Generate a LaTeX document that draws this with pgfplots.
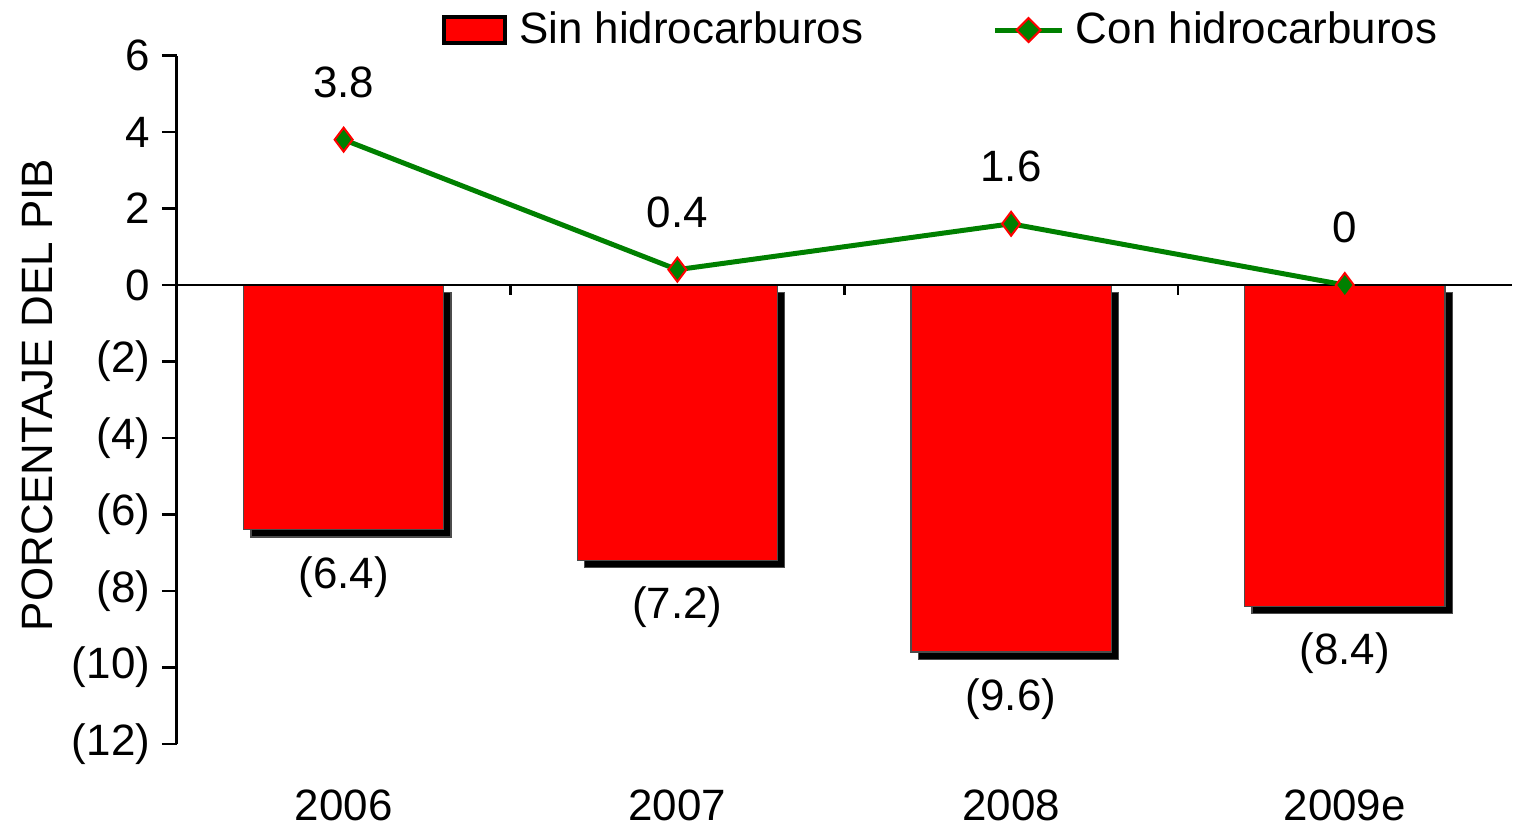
\documentclass[border=0pt]{standalone}
\usepackage{fontspec}
\setmainfont{Liberation Sans}
\usepackage{pgfplots}
\pgfplotsset{compat=1.18}
\definecolor{barRed}{RGB}{255,0,0}
\definecolor{lineGreen}{RGB}{0,128,0}
\newcommand{\chartfont}{\fontsize{13.2}{15}\selectfont}

\begin{document}
\begin{tikzpicture}
\begin{axis}[
  scale only axis,
  width=401.4pt, height=207pt,
  xmin=-0.5, xmax=3.5, ymin=-12, ymax=6,
  axis y line*=left, axis x line*=bottom,
  x axis line style={draw=none},
  y axis line style={line width=0.8pt},
  xtick={0,1,2,3},
  xticklabels={2006,2007,2008,2009e},
  xtick style={draw=none},
  xticklabel style={inner sep=2.5pt, yshift=-6.5pt},
  ytick={-12,-10,...,6},
  yticklabels={(12),(10),(8),(6),(4),(2),0,2,4,6},
  tick align=outside, major tick length=4.5pt,
  ytick style={black, line width=0.8pt},
  tick label style={font=\chartfont},
  /pgf/number format/assume math mode=true,
  ylabel={PORCENTAJE DEL PIB},
  ylabel style={font=\chartfont, inner ysep=6.5pt,
    at={(axis description cs:-0.1046,0.507)}, anchor=center},
  legend columns=2,
  legend style={draw=none, fill=none, font=\chartfont, inner sep=1.5pt,
    at={(axis description cs:0.574,1.037)}, anchor=center,
    /tikz/every odd column/.append style={column sep=1.5pt},
    /tikz/every even column/.append style={column sep=37pt}},
  clip=false,
]

% leyenda de las barras (cuadro rojo con borde negro, sin sombra)
\addlegendimage{legend image code/.code={
    \draw[fill=barRed, draw=black, line width=1.2pt] (0.6pt,-4pt) rectangle (19pt,4pt);}}
\addlegendentry{Sin hidrocarburos}

% barras: saldo sin hidrocarburos (meta = valor absoluto para la etiqueta)
\addplot[ybar, bar width=0.6, bar shift=0pt, forget plot,
  fill=barRed, draw=black!70, line width=0.4pt,
  preaction={fill=black, transform canvas={xshift=2.2pt, yshift=-2.2pt}},
  point meta=explicit,
  nodes near coords={(\pgfmathprintnumber[fixed,precision=1]{\pgfplotspointmeta})},
  nodes near coords style={font=\chartfont, text=black, anchor=north, yshift=-4.5pt},
] coordinates {(0,-6.4) [6.4] (1,-7.2) [7.2] (2,-9.6) [9.6] (3,-8.4) [8.4]};

% linea del cero
\addplot[black, line width=0.8pt, forget plot] coordinates {(-0.5,0) (3.5,0)};

% linea: saldo con hidrocarburos
\addplot[lineGreen, line width=1.5pt,
  mark=diamond*, mark size=3.6pt,
  mark options={fill=lineGreen, draw=red, line width=0.6pt},
  nodes near coords,
  nodes near coords style={font=\chartfont, text=black, anchor=south, yshift=9pt},
  legend image code/.code={
    \draw[lineGreen, line width=1.5pt] (0pt,0pt) -- (20pt,0pt);
    \draw[fill=lineGreen, draw=red, line width=0.6pt]
      (10pt,3.6pt) -- (13.6pt,0pt) -- (10pt,-3.6pt) -- (6.4pt,0pt) -- cycle;}
] coordinates {(0,3.8) (1,0.4) (2,1.6) (3,0)};
\addlegendentry{Con hidrocarburos}

% marcas entre categorias sobre la linea del cero
\draw[black, line width=0.8pt] (axis cs:0.5,0) -- ([yshift=-3pt]axis cs:0.5,0);
\draw[black, line width=0.8pt] (axis cs:1.5,0) -- ([yshift=-3pt]axis cs:1.5,0);
\draw[black, line width=0.8pt] (axis cs:2.5,0) -- ([yshift=-3pt]axis cs:2.5,0);

\end{axis}
\end{tikzpicture}
\end{document}
